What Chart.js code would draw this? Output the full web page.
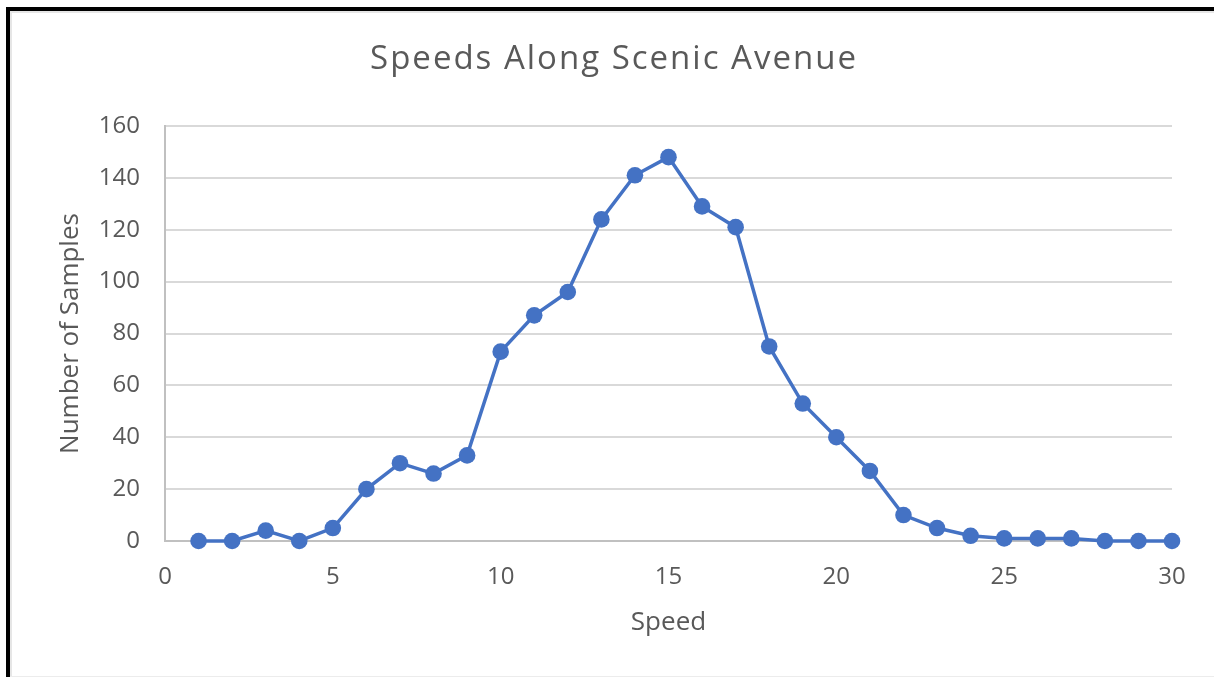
<!DOCTYPE html>
<html>
<head>
<meta charset="utf-8">
<script src="https://cdn.jsdelivr.net/npm/chart.js@4/dist/chart.umd.min.js"></script>
<style>
  html, body { margin: 0; padding: 0; background: #fff; }
  #wrap { position: relative; width: 1214px; height: 677px; }
</style>
</head>
<body>
<div id="wrap"><canvas id="c" width="1214" height="677"></canvas></div>
<script>
const speeds = [1, 2, 3, 4, 5, 6, 7, 8, 9, 10, 11, 12, 13, 14, 15, 16, 17, 18, 19, 20, 21, 22, 23, 24, 25, 26, 27, 28, 29, 30];
const samples = [0, 0, 4, 0, 5, 20, 30, 26, 33, 73, 87, 96, 124, 141, 148, 129, 121, 75, 53, 40, 27, 10, 5, 2, 1, 1, 1, 0, 0, 0];
const chartTitle = 'Speeds Along Scenic Avenue';
const xTitle = 'Speed';
const yTitle = 'Number of Samples';

const FONT = '"Open Sans", "Noto Sans", sans-serif';
const TEXT = '#595959';

const frame = {
  id: 'frame',
  beforeDraw(chart) {
    const ctx = chart.ctx;
    ctx.save();
    ctx.fillStyle = '#ffffff';
    ctx.fillRect(0, 0, chart.width, chart.height);
    ctx.restore();
  },
  afterDraw(chart) {
    const ctx = chart.ctx;
    ctx.save();
    // chart title, centred on the whole picture
    ctx.fillStyle = TEXT;
    ctx.font = '33px ' + FONT;
    ctx.textAlign = 'center';
    ctx.textBaseline = 'alphabetic';
    if ('letterSpacing' in ctx) ctx.letterSpacing = '2px';
    ctx.fillText(chartTitle, 614, 69);
    if ('letterSpacing' in ctx) ctx.letterSpacing = '0px';
    // frame
    ctx.fillStyle = '#e6e6e6';
    ctx.fillRect(10, 11, 2, chart.height);
    ctx.fillRect(10, 11, chart.width, 2);
    ctx.fillStyle = '#000000';
    ctx.fillRect(6, 7, 4, chart.height);
    ctx.fillRect(6, 7, chart.width, 4);
    ctx.fillStyle = '#ececec';
    ctx.fillRect(10, chart.height - 1, chart.width, 1);
    ctx.restore();
  }
};

new Chart(document.getElementById('c'), {
  type: 'line',
  data: {
    datasets: [{
      data: speeds.map((s, i) => ({ x: s, y: samples[i] })),
      borderColor: '#4472C4',
      backgroundColor: '#4472C4',
      borderWidth: 3.5,
      pointRadius: 8.3,
      pointHoverRadius: 8.3,
      pointBorderWidth: 0,
      pointBackgroundColor: '#4472C4',
      tension: 0,
      clip: false
    }]
  },
  options: {
    responsive: false,
    animation: false,
    events: [],
    layout: { padding: { left: 0, top: 126, right: 42, bottom: 0 } },
    plugins: {
      legend: { display: false },
      tooltip: { enabled: false },
      title: { display: false }
    },
    scales: {
      x: {
        type: 'linear',
        min: 0,
        max: 30,
        afterFit(scale) { scale.height = 136; },
        ticks: {
          stepSize: 5,
          color: TEXT,
          padding: 22,
          font: { family: FONT, size: 24 }
        },
        grid: { display: false, drawTicks: false },
        border: { display: true, color: '#c0c0c0', width: 2 },
        title: {
          display: true,
          text: xTitle,
          color: TEXT,
          font: { family: FONT, size: 26, lineHeight: 1.2 },
          padding: { top: 0, bottom: 39 }
        }
      },
      y: {
        min: 0,
        max: 160,
        afterFit(scale) { scale.width = 165; },
        ticks: {
          stepSize: 20,
          color: TEXT,
          padding: 25,
          font: { family: FONT, size: 24 }
        },
        grid: { color: '#d9d9d9', lineWidth: 2, drawTicks: false },
        border: { display: true, color: '#c0c0c0', width: 2 },
        title: {
          display: true,
          text: yTitle,
          color: TEXT,
          font: { family: FONT, size: 26, lineHeight: 1.2 },
          padding: { top: 55, bottom: 0 }
        }
      }
    }
  },
  plugins: [frame]
});
</script>
</body>
</html>
